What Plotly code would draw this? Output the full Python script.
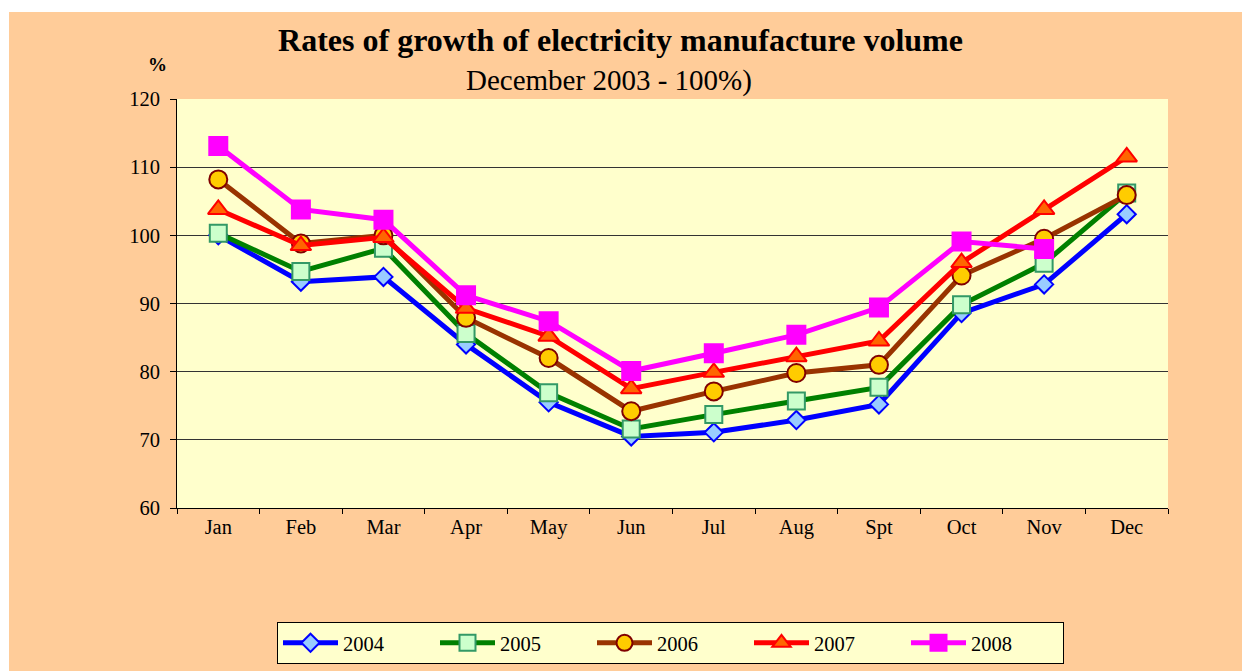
import plotly.graph_objects as go

months = ["Jan", "Feb", "Mar", "Apr", "May", "Jun", "Jul", "Aug", "Spt", "Oct", "Nov", "Dec"]
y2004 = [100.0, 93.2, 93.9, 84.0, 75.5, 70.5, 71.1, 72.9, 75.2, 88.6, 92.8, 103.1]
y2005 = [100.3, 94.7, 98.1, 85.6, 76.9, 71.6, 73.7, 75.7, 77.7, 89.8, 95.9, 106.2]
y2006 = [108.2, 98.8, 100.0, 87.9, 82.0, 74.2, 77.1, 79.8, 81.0, 94.1, 99.5, 105.9]
y2007 = [103.8, 98.5, 99.7, 89.3, 85.2, 77.5, 79.9, 82.2, 84.5, 96.0, 103.8, 111.5]
y2008 = [113.1, 103.8, 102.3, 91.2, 87.4, 80.1, 82.7, 85.4, 89.4, 99.1, 98.0, None]

series = [
    ("2004", y2004, "#0000FF", "diamond", "#99CCFF", "#0000FF", 14),
    ("2005", y2005, "#008000", "square", "#CCFFCC", "#339966", 17),
    ("2006", y2006, "#993300", "circle", "#FFCC00", "#800000", 18),
    ("2007", y2007, "#FF0000", "triangle-up", "#FF6600", "#FF0000", 18),
    ("2008", y2008, "#FF00FF", "square", "#FF00FF", "#FF00FF", 18),
]

# figure is placed at page offset (8, 8) by the default body margin
W, H = 1250, 671
L, R, T, B = 169, 90, 91, 171
pw, ph = W - L - R, H - T - B


def px(xf):
    return (xf - L) / pw


def py(yf):
    return (H - B - yf) / ph


fig = go.Figure()
for name, ys, lc, sym, fc, oc, sz in series:
    fig.add_trace(go.Scatter(
        x=months, y=ys, name=name, mode="lines+markers",
        line=dict(color=lc, width=5),
        marker=dict(symbol=sym, size=sz, color=fc, line=dict(color=oc, width=2)),
    ))

serif = "Liberation Serif"
fig.update_layout(
    width=W, height=H,
    margin=dict(l=L, r=R, t=T, b=B, autoexpand=False),
    paper_bgcolor="#FFCC99",
    plot_bgcolor="#FFFFCC",
    font=dict(family=serif, size=20.5, color="black"),
    title=dict(text="<b>Rates of growth of electricity manufacture volume</b>",
               font=dict(family=serif, size=32, color="black"),
               xref="container", x=612.5 / W, xanchor="center",
               yref="container", y=1 - 32 / H, yanchor="middle"),
    showlegend=True,
    legend=dict(orientation="h", x=px(269), xanchor="left",
                y=py(614), yanchor="top",
                bgcolor="#FFFFCC", bordercolor="black", borderwidth=1,
                font=dict(family=serif, size=20.5, color="black"),
                itemwidth=55,
                entrywidth=87, entrywidthmode="pixels",
                itemclick=False),
    xaxis=dict(type="category", range=[-0.5, 11.5], tickson="boundaries",
               ticks="outside", ticklen=5, tickcolor="black",
               showline=True, linecolor="black", linewidth=1,
               showgrid=False, zeroline=False,
               tickfont=dict(family=serif, size=20.5)),
    yaxis=dict(range=[60, 120], dtick=10, ticks="outside", ticklen=6,
               tickcolor="black", showline=True, linecolor="black", linewidth=1,
               showgrid=True, gridcolor="#333333", gridwidth=1, zeroline=False,
               ticklabelstandoff=6, tickfont=dict(family=serif, size=20.5)),
)

fig.add_annotation(text="December 2003 - 100%)", xref="paper", yref="paper",
                   x=px(600.5), y=py(72), xanchor="center", yanchor="middle",
                   showarrow=False, font=dict(family=serif, size=29, color="black"))
fig.add_annotation(text="<b>%</b>", xref="paper", yref="paper",
                   x=px(149), y=py(57), xanchor="center", yanchor="middle",
                   showarrow=False, font=dict(family=serif, size=19, color="black"))

# thin white strips at top and left, as in the reference
fig.add_shape(type="rect", xref="paper", yref="paper", layer="above",
              x0=px(-2), x1=px(W + 2), y0=py(4), y1=py(-2),
              fillcolor="white", line=dict(width=0))
fig.add_shape(type="rect", xref="paper", yref="paper", layer="above",
              x0=px(-2), x1=px(1), y0=py(H + 2), y1=py(-2),
              fillcolor="white", line=dict(width=0))

fig.write_html("out.html")
